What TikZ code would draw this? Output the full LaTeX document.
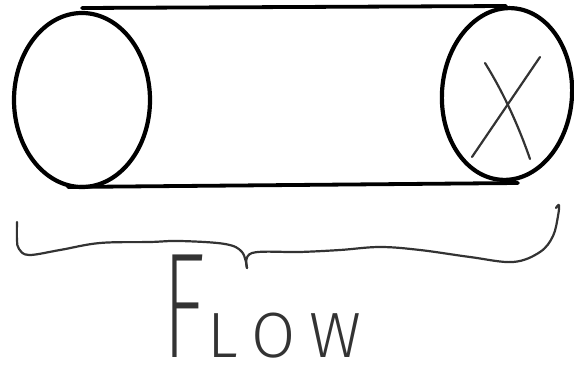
\documentclass[tikz,border=0pt]{standalone}
\usepackage{fontspec}
\setmainfont{Fira Sans Light}
\newfontfamily\narrowF{Fira Sans ExtraLight}[FakeStretch=0.6]
\usetikzlibrary{shapes.geometric}
\definecolor{pen}{HTML}{333333}
\tikzset{
  endcap/.style={ellipse, draw=black, line width=4.2pt, minimum width=136pt, minimum height=174pt, inner sep=0pt},
  side/.style={draw=black, line width=3.8pt, line cap=round},
  thin/.style={draw=pen, line width=2.2pt, line cap=round, line join=round}
}
\begin{document}
\begin{tikzpicture}[x=1pt,y=-1pt]
\useasboundingbox (0,0) rectangle (574,372);
\node[endcap] (L) at (82,100) {};
\node[endcap, minimum width=130pt, minimum height=172pt, rotate=-4] (R) at (507,94) {};
\draw[side] (82,8) -- (506,6);
\draw[side] (68,187) -- (518,183);
% X
\draw[thin] (485,63) .. controls (505,95) and (520,130) .. (530,159);
\draw[thin] (540,57) -- (472,157);
% brace
\draw[thin] plot[smooth, tension=0.6] coordinates {(17,222) (17,240) (19,249) (29,255) (60,250) (100,243) (150,242) (180,241) (225,244) (242,252) (247,268)};
\draw[thin] plot[smooth, tension=0.6] coordinates {(247,268) (252,253) (300,252) (340,250) (380,247) (420,250) (470,257) (513,262) (540,252) (553,236) (558,216) (559,205) (556,208)};
% text
\node[anchor=base west, inner sep=0pt, text=pen] (flow) at (162,357)
  {{\narrowF\fontsize{150}{150}\selectfont F}\kern2pt{\fontsize{64}{64}\selectfont L\kern14pt O\kern14pt W}};
\end{tikzpicture}
\end{document}
